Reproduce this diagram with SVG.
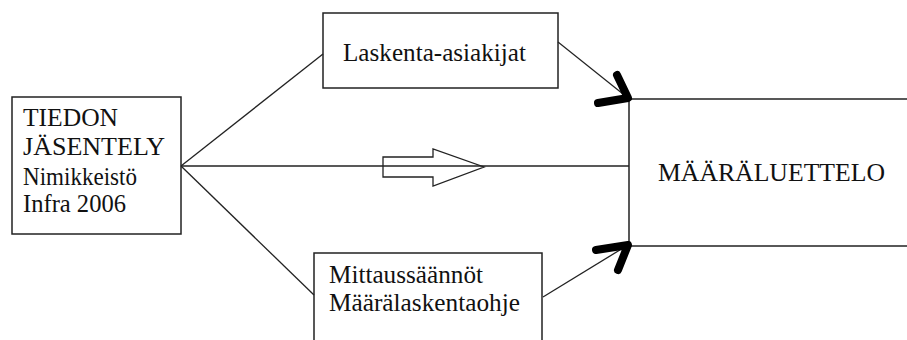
<svg xmlns="http://www.w3.org/2000/svg" width="907" height="340" viewBox="0 0 907 340">
  <style>
    .box { fill: #fff; stroke: #222; stroke-width: 1.5; }
    .edge { fill: none; stroke: #222; stroke-width: 1.3; }
    .head { fill: none; stroke: #000; stroke-width: 8; stroke-linecap: round; stroke-linejoin: round; }
    .lbl { font-family: "Liberation Serif", "Times New Roman", serif; font-size: 25px; fill: #111; }
  </style>
  <rect width="907" height="340" fill="#fff"/>

  <g id="node-tiedon">
    <rect class="box" x="12" y="97" width="169" height="137"/>
    <text class="lbl" x="23" y="126" textLength="95" lengthAdjust="spacingAndGlyphs">TIEDON</text>
    <text class="lbl" x="23" y="155" textLength="142" lengthAdjust="spacingAndGlyphs">JÄSENTELY</text>
    <text class="lbl" x="23" y="185" textLength="114" lengthAdjust="spacingAndGlyphs">Nimikkeistö</text>
    <text class="lbl" x="23" y="212" textLength="103" lengthAdjust="spacingAndGlyphs">Infra 2006</text>
  </g>

  <g id="node-laskenta">
    <rect class="box" x="323" y="13" width="235" height="75"/>
    <text class="lbl" x="343" y="61" textLength="183" lengthAdjust="spacingAndGlyphs">Laskenta-asiakijat</text>
  </g>

  <g id="node-mittaus">
    <rect class="box" x="314" y="253" width="228" height="100"/>
    <text class="lbl" x="329" y="283" textLength="154" lengthAdjust="spacingAndGlyphs">Mittaussäännöt</text>
    <text class="lbl" x="329" y="311" textLength="191" lengthAdjust="spacingAndGlyphs">Määrälaskentaohje</text>
  </g>

  <g id="node-maaraluettelo">
    <rect class="box" x="629" y="99" width="290" height="147"/>
    <text class="lbl" x="658" y="181" textLength="227" lengthAdjust="spacingAndGlyphs">MÄÄRÄLUETTELO</text>
  </g>

  <g id="connectors">
    <line class="edge" x1="181" y1="166" x2="323" y2="54"/>
    <line class="edge" x1="181" y1="166" x2="629" y2="166"/>
    <line class="edge" x1="181" y1="166" x2="314" y2="295"/>
    <line class="edge" x1="558" y1="42" x2="628" y2="98"/>
    <line class="edge" x1="543" y1="297" x2="628" y2="245"/>
    <!-- hollow block arrow on the middle line -->
    <polygon class="edge" points="383,157 433,157 433,149 484,167 433,186 433,177 383,177"/>
    <!-- heavy arrowheads at the list box corners -->
    <path class="head" d="M617,75 L628,98 L598,103"/>
    <path class="head" d="M596,250 L628,245 L618,270"/>
  </g>
</svg>
